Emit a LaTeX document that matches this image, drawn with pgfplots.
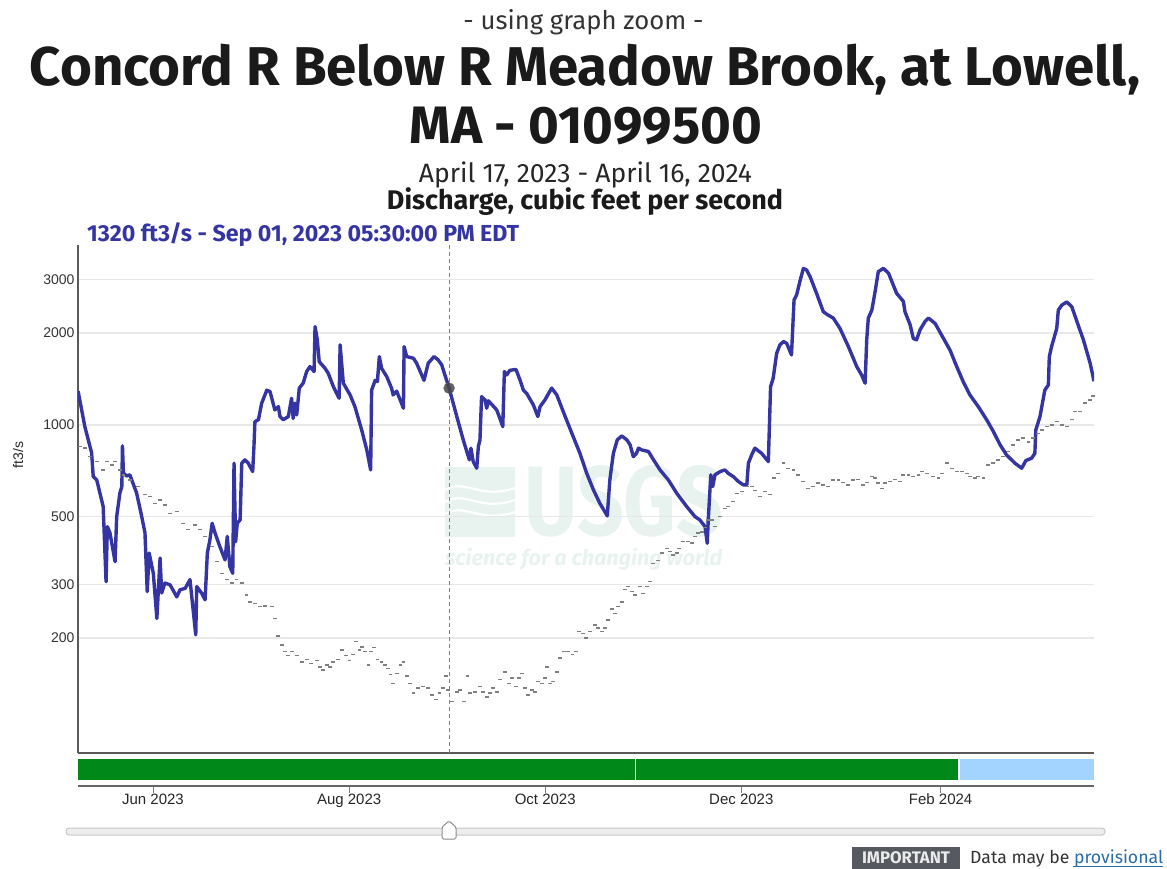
\documentclass[border=0pt]{standalone}
\usepackage{pgfplots}
\pgfplotsset{compat=1.18}
\usepackage{fontspec}
\setmainfont{Fira Sans}
\newfontfamily\arial{Liberation Sans}
\definecolor{lineblue}{RGB}{52,52,162}
\definecolor{gridc}{RGB}{232,232,232}
\definecolor{wm}{RGB}{232,243,240}
\definecolor{appr}{RGB}{0,137,25}
\definecolor{prov}{RGB}{163,211,255}
\definecolor{badge}{RGB}{86,90,96}
\definecolor{linkc}{RGB}{42,108,170}
\definecolor{txt}{RGB}{26,26,26}
\begin{document}
\begin{tikzpicture}
\begin{scope}[x=1pt,y=-1pt]
\path[use as bounding box] (0,0) rectangle (1167,869);
% titles
\node[anchor=base, inner sep=0, text=black!80] at (583.5,30) {\resizebox{240pt}{!}{- using graph zoom -}};
\node[anchor=base, inner sep=0, text=txt] at (585,86) {\resizebox{1110pt}{!}{\bfseries Concord R Below R Meadow Brook, at Lowell,}};
\node[anchor=base, inner sep=0, text=txt] at (586,144) {\resizebox{352pt}{!}{\bfseries MA - 01099500}};
\node[anchor=base, inner sep=0, text=black!85] at (585.5,183) {\resizebox{333pt}{!}{April 17, 2023 - April 16, 2024}};
\node[anchor=base, inner sep=0, text=txt] at (585,210) {\resizebox{396pt}{!}{\bfseries Discharge, cubic feet per second}};
\node[anchor=base west, inner sep=0, text=lineblue] at (87,241) {\resizebox{432pt}{!}{\bfseries 1320 ft3/s - Sep 01, 2023 05:30:00 PM EDT}};
% watermark
\fill[wm] (445,467) rectangle (515,537);
\foreach \o in {0,12,24}{
  \draw[white, line width=2.2pt] (445,{490+\o}) .. controls (465,{478+\o}) and (480,{500+\o}) .. (515,{488+\o});
}
\node[anchor=south west, inner sep=0, text=wm] at (524,537) {\resizebox{199pt}{70pt}{\bfseries USGS}};
\node[anchor=base west, inner sep=0, text=wm] at (445,565) {\resizebox{277pt}{!}{\bfseries\itshape science for a changing world}};
% y label
\node[rotate=90, text=black!85, font=\arial\fontsize{14}{16}\selectfont] at (18,455) {ft3/s};
% slider
\draw[rounded corners=3pt, fill=black!7, draw=black!22, line width=1pt] (66,828) rectangle (1105,835);
\draw[rounded corners=1.5pt, fill=white, draw=black!45, line width=1pt] (442,839) -- (442,827) -- (449,821) -- (456,827) -- (456,839) -- cycle;
% important
\fill[badge] (852,847) rectangle (960,871);
\node[anchor=base, inner sep=0, text=black!8] at (906,863) {\resizebox{88pt}{!}{\bfseries IMPORTANT}};
\node[anchor=base west, inner sep=0, text=black!80] at (970,863) {\resizebox{193pt}{!}{Data may be \textcolor{linkc}{provisional}}};
\draw[linkc, line width=1pt] (1073,866) -- (1163,866);
\end{scope}

% main axis
\begin{axis}[
  at={(78pt,-753pt)}, anchor=south west, scale only axis,
  width=1016pt, height=508pt,
  xmin=-23.33, xmax=292.7, ymode=log, ymin=84, ymax=3890,
  axis lines=left, axis line style={-, draw=black!65, line width=1.3pt},
  xtick=\empty,
  ytick={200,300,500,1000,2000,3000},
  yticklabels={200,300,500,1000,2000,3000},
  /pgf/number format/assume math mode=true,
  yticklabel style={font=\arial\fontsize{14}{16}\selectfont, text=black!80},
  yminorticks=false,
  major tick length=0pt,
  ymajorgrids, grid style={gridc, line width=1.5pt},
  clip=true,
]
\addplot[only marks, mark=-, mark size=1.9pt, mark options={draw=black!50, line width=1.4pt}] coordinates {
(-22.7,849)(-21.2,840)(-19.6,787)(-17.5,758)(-15.5,712)(-14.4,758)(-12.8,739)(-11.8,758)(-10.3,712)(-9.2,686)(-7.2,660)(-4.6,628)(-2.5,590)(-0.9,582)(0.6,553)(2.2,568)(3.7,547)(5.3,513)(7.4,520)(9.4,476)(11.0,453)(13.1,470)(14.6,453)(16.2,431)(18.3,399)(19.8,356)(21.4,326)(22.9,311)(24.5,303)(26.0,311)(27.6,303)(29.1,277)(30.2,263)(31.7,260)(33.3,254)(34.8,255)(36.9,254)(37.9,232)(39.0,203)(40.0,190)(41.1,181)(42.1,175)(43.2,181)(44.7,175)(46.3,167)(47.8,170)(49.1,165)(50.9,169)(51.9,161)(53.0,157)(54.0,163)(55.1,161)(56.1,167)(57.6,170)(58.7,183)(60.0,175)(61.1,169)(62.3,177)(63.1,195)(64.2,183)(64.9,187)(65.9,181)(67.0,163)(67.8,181)(68.8,186)(69.8,170)(71.1,167)(72.2,163)(73.2,159)(73.9,152)(74.7,142)(76.0,153)(77.0,163)(77.9,167)(78.9,150)(79.9,142)(81.0,132)(82.5,137)(84.1,139)(85.6,137)(86.7,130)(88.0,126)(89.1,132)(90.1,137)(91.1,150)(91.8,135)(92.9,124)(94.5,133)(95.5,135)(96.7,124)(97.8,150)(98.6,132)(100.2,133)(101.7,139)(102.7,133)(104.0,128)(104.8,132)(105.8,137)(106.9,133)(107.9,146)(109.5,155)(110.8,142)(111.6,148)(112.9,139)(113.9,148)(114.7,153)(115.7,137)(116.7,130)(117.8,135)(118.8,133)(119.8,144)(120.9,142)(121.9,148)(122.6,161)(123.5,142)(124.5,144)(125.6,155)(126.6,172)(127.8,181)(129.2,181)(130.5,177)(131.6,181)(132.6,210)(133.7,207)(134.7,200)(135.9,210)(137.5,221)(138.5,216)(139.6,210)(140.6,216)(141.6,229)(142.7,249)(143.7,241)(144.7,254)(145.8,263)(146.8,288)(147.8,295)(148.9,284)(149.9,277)(151.5,295)(152.5,280)(153.6,295)(154.6,306)(155.6,352)(157.2,360)(158.2,380)(159.8,394)(160.8,385)(161.8,375)(162.9,380)(163.7,394)(164.9,414)(166.4,414)(167.6,410)(168.6,431)(169.6,442)(170.7,445)(171.7,460)(172.7,488)(173.8,488)(174.8,464)(176.4,500)(177.9,533)(178.9,540)(180.5,560)(181.6,597)(183.1,605)(184.7,628)(186.2,628)(187.2,610)(188.8,582)(190.3,604)(191.9,590)(193.2,669)(194.5,694)(196.1,749)(197.6,721)(199.2,712)(200.7,686)(202.3,652)(203.8,620)(205.4,628)(206.9,644)(208.5,636)(210.0,628)(211.6,660)(213.2,660)(214.7,647)(216.3,636)(217.8,660)(219.4,662)(220.9,636)(222.0,647)(223.6,677)(224.6,669)(225.6,644)(226.7,620)(227.7,644)(229.2,652)(230.8,662)(232.3,652)(233.4,686)(235.0,686)(236.5,677)(238.1,686)(239.1,703)(240.7,694)(242.7,677)(244.3,669)(245.3,694)(246.9,749)(248.5,721)(250.0,703)(251.6,703)(253.2,694)(254.1,677)(255.7,669)(256.7,677)(258.3,669)(259.8,739)(261.4,749)(262.9,768)(264.5,787)(266.0,818)(267.6,860)(269.1,893)(270.7,906)(272.3,880)(273.8,906)(275.4,939)(276.5,963)(278.0,987)(279.6,1000)(281.1,1025)(282.7,1000)(284.2,987)(285.8,1040)(286.8,1105)(288.3,1105)(289.9,1178)(291.4,1207)(292.5,1245)
};
\addplot[black!50, line width=0.9pt, dash pattern=on 4pt off 3pt] coordinates {(92.1,84)(92.1,3890)};
\addplot[lineblue, line width=3.4pt, line join=round] coordinates {
(-23.3,1290)(-21.2,987)(-19.1,810)(-18.6,677)(-17.5,660)(-15.5,540)(-14.6,306)(-14.2,464)(-13.4,443)(-11.8,356)(-11.3,500)(-10.3,598)(-9.7,628)(-9.5,854)(-9.2,696)(-8.2,680)(-7.2,686)(-5.1,598)(-3.5,500)(-2.5,443)(-1.8,284)(-1.2,380)(0.1,326)(1.2,232)(2.2,366)(2.7,281)(3.7,303)(5.3,299)(7.4,273)(8.4,288)(10.0,291)(11.5,311)(13.3,205)(13.6,295)(15.1,281)(16.2,267)(16.9,380)(17.7,420)(18.4,476)(19.3,442)(20.8,399)(22.4,361)(23.1,431)(23.9,343)(24.8,326)(25.2,749)(25.7,414)(26.2,476)(27.1,488)(27.6,749)(28.6,768)(29.6,750)(31.0,703)(31.4,849)(31.7,1025)(32.8,1040)(33.8,1178)(35.4,1300)(36.4,1286)(37.9,1120)(39.0,1148)(39.5,1065)(40.5,1040)(42.1,1065)(43.1,1223)(43.6,1050)(44.2,1178)(44.7,1078)(45.5,1320)(46.7,1370)(47.8,1496)(48.8,1553)(50.1,1496)(50.4,2100)(51.1,1900)(51.7,1612)(53.5,1534)(54.5,1477)(56.1,1335)(57.1,1270)(57.9,1223)(58.2,1830)(59.2,1370)(61.3,1254)(62.8,1148)(64.9,963)(66.5,828)(67.7,712)(68.0,1300)(69.1,1400)(69.8,1387)(70.4,1675)(71.1,1534)(72.7,1440)(74.2,1320)(74.7,1254)(75.8,1290)(77.9,1134)(78.1,1806)(78.9,1675)(81.0,1654)(82.0,1593)(84.3,1400)(85.6,1593)(87.4,1675)(88.7,1633)(89.8,1573)(92.1,1320)(94.5,1065)(96.5,893)(98.4,768)(98.9,839)(99.6,758)(100.7,721)(101.2,849)(101.7,893)(102.2,1238)(103.3,1207)(103.8,1134)(104.3,1200)(106.9,1120)(107.9,1050)(108.8,987)(109.3,1496)(110.0,1458)(111.0,1510)(112.9,1520)(114.2,1400)(115.2,1300)(116.2,1270)(118.3,1163)(119.7,1065)(120.4,1148)(121.9,1207)(124.0,1320)(125.6,1254)(128.2,1065)(130.7,915)(132.8,807)(134.9,694)(137.0,612)(139.0,553)(141.3,503)(142.1,660)(143.2,807)(144.4,893)(145.8,920)(147.4,893)(148.4,860)(149.4,787)(150.4,807)(151.0,839)(152.0,828)(154.1,818)(155.7,768)(157.7,712)(160.3,660)(162.9,597)(166.0,540)(168.6,500)(170.1,488)(171.7,464)(172.4,409)(172.7,485)(173.5,686)(174.1,628)(174.8,686)(176.4,703)(177.9,712)(178.9,694)(180.5,677)(182.1,652)(183.6,636)(184.7,636)(185.2,749)(186.2,797)(187.2,839)(189.3,807)(191.4,758)(192.1,1335)(192.9,1422)(194.0,1718)(195.0,1830)(196.1,1876)(197.1,1852)(198.6,1696)(199.4,2570)(200.2,2667)(201.2,2950)(202.3,3260)(203.3,3220)(204.4,3060)(206.4,2700)(208.5,2350)(210.0,2290)(211.6,2240)(213.7,2070)(216.3,1806)(218.9,1553)(220.4,1458)(221.5,1370)(222.0,1900)(222.5,2240)(223.6,2380)(224.6,2730)(225.6,3180)(227.2,3260)(228.8,3140)(231.3,2700)(233.4,2540)(233.9,2350)(235.5,2130)(236.5,1920)(237.5,1900)(238.6,2050)(240.1,2180)(241.2,2240)(243.3,2150)(245.3,1970)(247.9,1760)(250.0,1553)(252.0,1387)(254.1,1254)(256.7,1148)(259.3,1040)(261.4,951)(263.5,860)(265.5,797)(268.1,749)(270.2,721)(271.5,764)(273.3,778)(274.3,807)(274.6,963)(275.9,1065)(277.4,1300)(278.5,1352)(278.8,1675)(279.5,1806)(281.1,2070)(281.6,2380)(282.7,2470)(284.2,2530)(285.8,2440)(287.4,2180)(289.4,1900)(291.5,1593)(292.7,1390)
};
\addplot[only marks, mark=*, mark size=5.5pt, mark options={fill=black!72, draw=black!60, opacity=0.85}] coordinates {(92.1,1320)};
\end{axis}

% approval bar axis
\begin{axis}[
  at={(78pt,-786pt)}, anchor=south west, scale only axis,
  width=1016pt, height=28pt,
  xmin=-23.33, xmax=292.7, ymin=0, ymax=1,
  axis x line=bottom, axis y line=none,
  x axis line style={-, draw=black!60, line width=1.6pt},
  xtick={0,61,122,183,245},
  xticklabels={Jun 2023,Aug 2023,Oct 2023,Dec 2023,Feb 2024},
  tick align=outside, major tick length=7pt,
  x tick style={draw=black!50, line width=0.8pt},
  xticklabel style={font=\arial\fontsize{15}{17}\selectfont, text=black!85, yshift=3pt},
  clip=false,
]
\addplot[fill=appr, draw=none] coordinates {(-23.33,0.214)(-23.33,0.964)(150.0,0.964)(150.0,0.214)} -- cycle;
\addplot[fill=appr, draw=none] coordinates {(150.35,0.214)(150.35,0.964)(250.5,0.964)(250.5,0.214)} -- cycle;
\addplot[fill=prov, draw=none] coordinates {(251.1,0.214)(251.1,0.964)(292.7,0.964)(292.7,0.214)} -- cycle;
\end{axis}
\end{tikzpicture}
\end{document}
